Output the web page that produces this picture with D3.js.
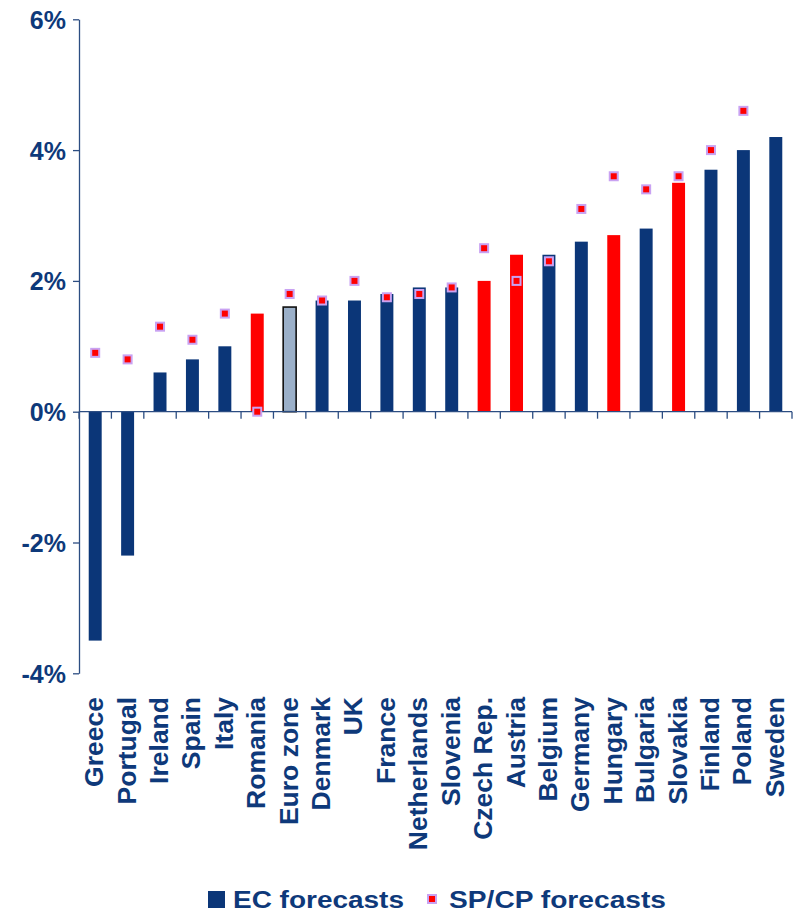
<!DOCTYPE html>
<html>
<head>
<meta charset="utf-8">
<script src="https://cdn.jsdelivr.net/npm/d3@7"></script>
<style>
  body { margin: 0; background: #fff; }
  text { font-family: "Liberation Sans", Arial, sans-serif; font-weight: bold; }
</style>
</head>
<body>
<div id="chart"></div>
<script>
// data
const countries = ["Greece", "Portugal", "Ireland", "Spain", "Italy", "Romania", "Euro zone", "Denmark", "UK", "France",
  "Netherlands", "Slovenia", "Czech Rep.", "Austria", "Belgium", "Germany", "Hungary", "Bulgaria", "Slovakia",
  "Finland", "Poland", "Sweden"]
const ecForecasts = [-3.5, -2.2, 0.6, 0.8, 1.0, 1.5, 1.6, 1.7, 1.7, 1.8, 1.9, 1.9, 2.0, 2.4, 2.4, 2.6, 2.7, 2.8, 3.5, 3.7, 4.0, 4.2]
const spcpForecasts = [0.9, 0.8, 1.3, 1.1, 1.5, 0.0, 1.8, 1.7, 2.0, 1.75, 1.8, 1.9, 2.5, 2.0, 2.3, 3.1, 3.6, 3.4, 3.6, 4.0, 4.6, null]
// bar group: "ea" blue, "red" highlighted, "avg" euro zone
const barGroup = ["ea", "ea", "ea", "ea", "ea", "red", "avg", "ea", "ea", "ea", "ea", "ea", "red", "red", "ea", "ea",
  "red", "ea", "red", "ea", "ea", "ea"]
const yTicks = [-4, -2, 0, 2, 4, 6]
const legendLabels = ["EC forecasts", "SP/CP forecasts"]

const navy = "#0b3678", textNavy = "#0e397a"
const fills = {ea: navy, red: "#ff0000", avg: "#9bb0c9"}

const W = 796, H = 913
const svg = d3.select("#chart").append("svg")
  .attr("width", W).attr("height", H)

const data = countries.map((c, i) => ({name: c, ec: ecForecasts[i], sp: spcpForecasts[i], group: barGroup[i]}))

const x = d3.scaleBand()
  .domain(countries)
  .range([79, 792])
  .paddingInner(0.6)
  .paddingOuter(0.3)

const y = d3.scaleLinear()
  .domain([-4, 6])
  .range([673.3, 19.3])

// Y axis
const yAxis = svg.append("g")
  .attr("transform", "translate(79,0)")
  .call(d3.axisLeft(y).tickValues(yTicks).tickSize(6).tickSizeOuter(0).tickPadding(7)
    .tickFormat(d => d + "%"))
yAxis.select(".domain").attr("stroke", "#2c4d82").attr("stroke-width", 1.3)
yAxis.selectAll(".tick line").attr("stroke", "#2c4d82").attr("stroke-width", 1.3)
yAxis.selectAll(".tick text")
  .attr("fill", textNavy)
  .style("font-size", "25px")
  .attr("dy", "0.36em")

// bars
svg.append("g").selectAll("rect")
  .data(data)
  .join("rect")
  .attr("x", d => x(d.name))
  .attr("width", x.bandwidth())
  .attr("y", d => y(Math.max(0, d.ec)))
  .attr("height", d => Math.abs(y(d.ec) - y(0)))
  .attr("fill", d => fills[d.group])
  .attr("stroke", d => d.group == "avg" ? "#111" : "none")
  .attr("stroke-width", 1.6)

// X axis line and ticks between categories
svg.append("line")
  .attr("x1", 79).attr("x2", 792)
  .attr("y1", y(0)).attr("y2", y(0))
  .attr("stroke", "#2c4d82").attr("stroke-width", 1.3)
svg.append("g").selectAll("line")
  .data(countries.concat(["__end"]))
  .join("line")
  .attr("x1", (d, i) => x.range()[0] + i * x.step())
  .attr("x2", (d, i) => x.range()[0] + i * x.step())
  .attr("y1", y(0)).attr("y2", y(0) + 7)
  .attr("stroke", "#2c4d82").attr("stroke-width", 1.3)

// SP/CP markers
svg.append("g").selectAll("rect")
  .data(data.filter(d => d.sp != null))
  .join("rect")
  .attr("x", d => x(d.name) + x.bandwidth() / 2 - 4)
  .attr("y", d => y(d.sp) - 4)
  .attr("width", 8).attr("height", 8)
  .attr("fill", "#ff0000")
  .attr("stroke", "#c9a2f2")
  .attr("stroke-width", 2)

// category labels, rotated
svg.append("g").selectAll("text")
  .data(countries)
  .join("text")
  .attr("transform", d => `translate(${x(d) + x.bandwidth() / 2 + 8},697) rotate(-90)`)
  .attr("text-anchor", "end")
  .attr("fill", textNavy)
  .style("font-size", "26.5px")
  .text(d => d)

// legend
const leg = svg.append("g")
leg.append("rect")
  .attr("x", 208).attr("y", 891).attr("width", 17).attr("height", 17)
  .attr("fill", navy)
leg.append("text")
  .attr("x", 233).attr("y", 908)
  .attr("fill", textNavy)
  .style("font-size", "23px")
  .attr("textLength", 171).attr("lengthAdjust", "spacingAndGlyphs")
  .text(legendLabels[0])
leg.append("rect")
  .attr("x", 428).attr("y", 895).attr("width", 8).attr("height", 8)
  .attr("fill", "#ff0000").attr("stroke", "#c9a2f2").attr("stroke-width", 2)
leg.append("text")
  .attr("x", 449).attr("y", 908)
  .attr("fill", textNavy)
  .style("font-size", "23px")
  .attr("textLength", 217).attr("lengthAdjust", "spacingAndGlyphs")
  .text(legendLabels[1])
</script>
</body>
</html>
